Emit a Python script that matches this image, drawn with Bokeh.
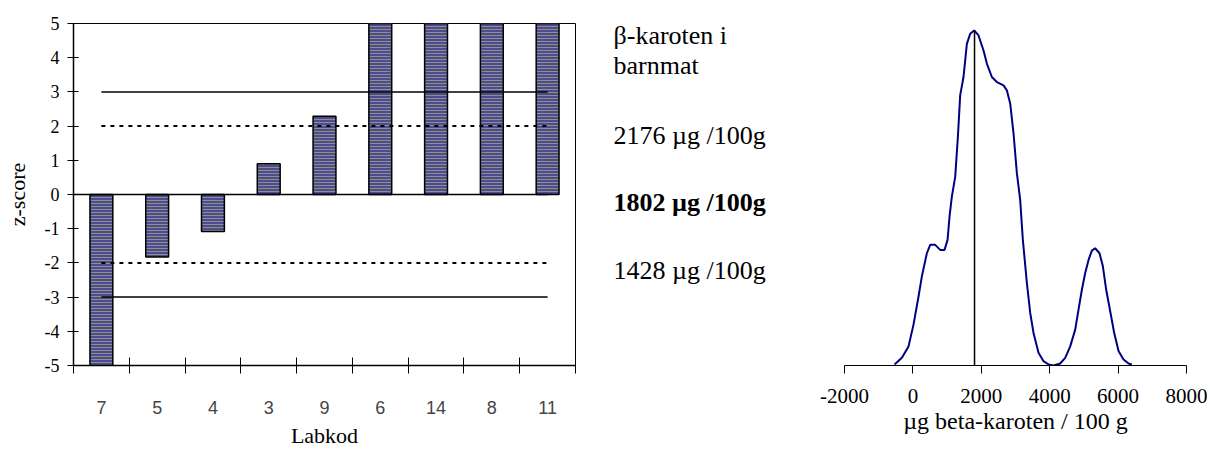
import numpy as np
from bokeh.plotting import figure
from bokeh.layouts import row
from bokeh.models import Range1d, FixedTicker
from bokeh.core.properties import value
from bokeh.embed import file_html
from bokeh.resources import INLINE

# ---------------- data ----------------
labkod = ["7", "5", "4", "3", "9", "6", "14", "8", "11"]
z_scores = [-5.1, -1.83, -1.08, 0.90, 2.29, 5.1, 5.1, 5.1, 5.1]
action_limit = 3
warning_limit = 2
y_ticks = [-5, -4, -3, -2, -1, 0, 1, 2, 3, 4, 5]

title_lines = ["β-karoten i", "barnmat"]
upper_value = 2176
assigned_value = 1802
lower_value = 1428

kde_x = [-537, -322, -128, 18, 165, 262, 408, 506, 652, 798, 925, 1013, 1071, 1139,
         1237, 1315, 1383, 1480, 1578, 1675, 1792, 1919, 2065, 2163, 2309, 2455, 2650,
         2748, 2845, 2942, 3040, 3137, 3215, 3333, 3430, 3527, 3673, 3820, 3966, 4112,
         4307, 4453, 4600, 4746, 4843, 4941, 5038, 5136, 5233, 5330, 5457, 5555, 5652,
         5769, 5886, 6013, 6159, 6305, 6403]
kde_y = [0.003, 0.023, 0.057, 0.122, 0.206, 0.266, 0.335, 0.360, 0.360, 0.345, 0.345,
         0.375, 0.444, 0.504, 0.563, 0.682, 0.807, 0.861, 0.960, 0.990, 1.000, 0.985,
         0.940, 0.901, 0.861, 0.846, 0.836, 0.821, 0.782, 0.693, 0.574, 0.494, 0.375,
         0.246, 0.157, 0.097, 0.038, 0.013, 0.003, 0.000, 0.006, 0.023, 0.057, 0.107,
         0.167, 0.226, 0.276, 0.315, 0.343, 0.350, 0.335, 0.296, 0.226, 0.162, 0.097,
         0.043, 0.018, 0.006, 0.003]
right_ticks = [-2000, 0, 2000, 4000, 6000, 8000]

SERIF = "Liberation Serif"
SANS = "Liberation Sans"
H = 450
TOP = 23
BOTTOM = 81
FRAME_H = H - TOP - BOTTOM   # 346

# ---------------- left: z-score bars ----------------
n = len(labkod)
pos = [float(i) + 0.5 for i in range(n)]

p1 = figure(width=600, height=H, x_range=Range1d(0, n), y_range=Range1d(-5, 5),
            output_backend="svg", toolbar_location=None,
            min_border_left=73, min_border_right=25, min_border_top=TOP,
            min_border_bottom=BOTTOM)
p1.grid.visible = False
p1.outline_line_color = "black"
p1.outline_line_width = 1

p1.vbar(x=pos, top=z_scores, bottom=0, width=0.41,
        fill_color="#4c4c92", line_color="black", line_width=1.5,
        hatch_pattern="horizontal_line", hatch_color="#8f8f86",
        hatch_scale=3, hatch_weight=1)

p1.line([0, pos[-1]], [0, 0], line_color="black", line_width=1.5)
for s in (1, -1):
    p1.line([pos[0], pos[-1]], [s * action_limit] * 2, line_color="black", line_width=1.5)
    p1.line([pos[0], pos[-1]], [s * warning_limit] * 2, line_color="black",
            line_width=2, line_dash="4 5")

ya = p1.yaxis[0]
ya.ticker = FixedTicker(ticks=y_ticks)
ya.major_label_overrides = {t: str(t) for t in y_ticks}
ya.major_tick_in = 5
ya.major_tick_out = 6
ya.minor_tick_line_color = None
ya.axis_line_width = 1.5
ya.major_label_text_font = SERIF
ya.major_label_text_font_size = "18px"
ya.major_label_text_color = "black"
ya.major_label_standoff = 8
ya.axis_label = "z-score"
ya.axis_label_text_font = SERIF
ya.axis_label_text_font_size = "22px"
ya.axis_label_text_font_style = "normal"
ya.axis_label_text_color = "black"
ya.axis_label_standoff = 12

xa = p1.xaxis[0]
xa.ticker = FixedTicker(ticks=pos, minor_ticks=list(range(n + 1)))
xa.major_label_overrides = {p: l for p, l in zip(pos, labkod)}
xa.major_tick_line_color = None
xa.major_tick_in = 0
xa.major_tick_out = 0
xa.minor_tick_in = 8
xa.minor_tick_out = 8
xa.minor_tick_line_color = "black"
xa.axis_line_width = 1.5
xa.major_label_text_font = SANS
xa.major_label_text_font_size = "18px"
xa.major_label_text_color = "#444444"
xa.major_label_standoff = 27
xa.axis_label = "Labkod"
xa.axis_label_text_font = SERIF
xa.axis_label_text_font_size = "22px"
xa.axis_label_text_font_style = "normal"
xa.axis_label_text_color = "black"
xa.axis_label_standoff = 6

# ---------------- middle: text panel ----------------
# y range maps directly onto page pixel rows (frame spans rows TOP..TOP+FRAME_H)
p2 = figure(width=200, height=H, x_range=Range1d(0, 200),
            y_range=Range1d(TOP + FRAME_H, TOP),
            output_backend="svg", toolbar_location=None,
            min_border_left=0, min_border_right=0, min_border_top=TOP,
            min_border_bottom=BOTTOM, x_axis_location=None, y_axis_location=None)
p2.grid.visible = False
p2.outline_line_color = None

normal_text = title_lines + [f"{upper_value} µg /100g", f"{lower_value} µg /100g"]
normal_y = [35, 65, 136, 272.7]
p2.text(x=[13] * len(normal_text), y=normal_y, text=normal_text,
        text_font=value(SERIF), text_font_size="26px", text_baseline="alphabetic",
        text_color="black")
p2.text(x=[13], y=[204], text=[f"{assigned_value} µg /100g"],
        text_font=value(SERIF), text_font_size="26px", text_font_style="bold",
        text_baseline="alphabetic", text_color="black")

# ---------------- right: density curve ----------------
p3 = figure(width=410, height=H, x_range=Range1d(-2000, 8000),
            y_range=Range1d(0, FRAME_H / 339), output_backend="svg", toolbar_location=None,
            min_border_left=44, min_border_right=24, min_border_top=TOP,
            min_border_bottom=BOTTOM, y_axis_location=None)
p3.grid.visible = False
p3.outline_line_color = None

p3.line(kde_x, kde_y, line_color="#000080", line_width=2)
p3.segment(x0=[assigned_value], y0=[0], x1=[assigned_value],
           y1=[float(np.interp(assigned_value, kde_x, kde_y))],
           line_color="black", line_width=1.5)

ra = p3.xaxis[0]
ra.ticker = FixedTicker(ticks=right_ticks)
ra.major_label_overrides = {t: str(t) for t in right_ticks}
ra.major_tick_in = 0
ra.major_tick_out = 8
ra.minor_tick_line_color = None
ra.axis_line_color = "black"
ra.major_label_text_font = SERIF
ra.major_label_text_font_size = "21px"
ra.major_label_text_color = "black"
ra.major_label_standoff = 15
ra.axis_label = "µg beta-karoten / 100 g"
ra.axis_label_text_font = SERIF
ra.axis_label_text_font_size = "24px"
ra.axis_label_text_font_style = "normal"
ra.axis_label_text_color = "black"
ra.axis_label_standoff = 2

layout = row(p1, p2, p3)
open("out.html", "w").write(file_html(layout, INLINE))
